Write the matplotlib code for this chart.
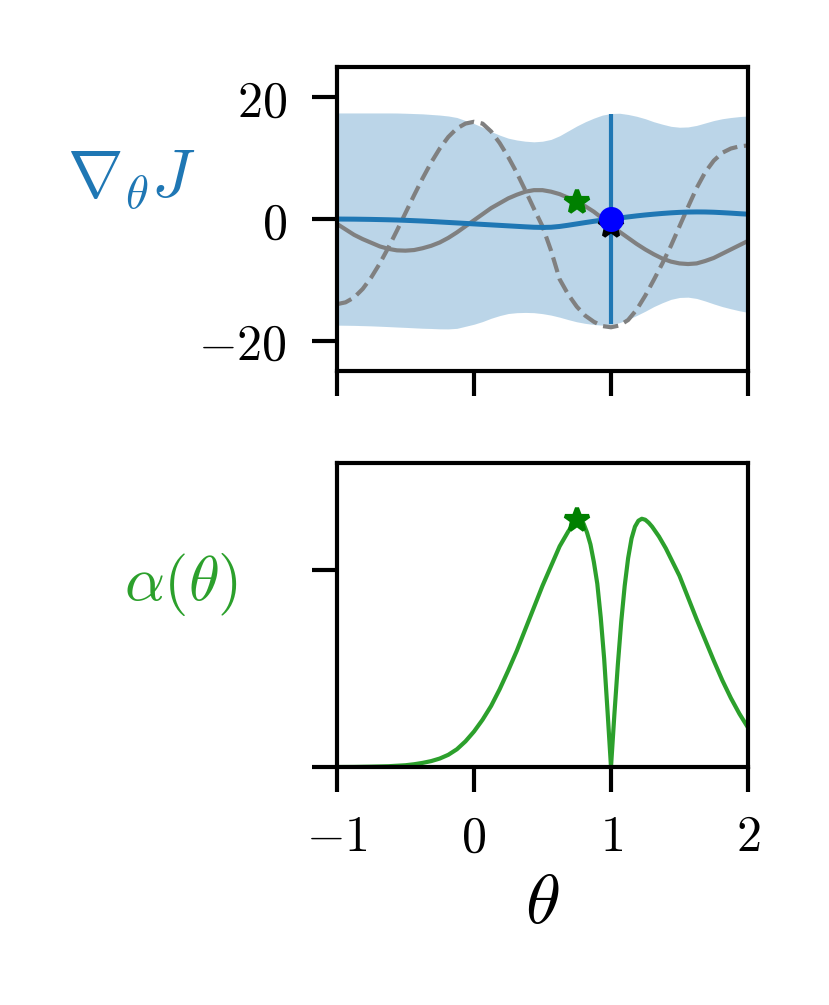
import numpy as np
import matplotlib
matplotlib.use('Agg')
import matplotlib.pyplot as plt

plt.rcParams['mathtext.fontset'] = 'cm'
plt.rcParams['font.family'] = 'serif'

# top panel: gradient GP (step 0.0625)
theta = [-1.0, -0.9375, -0.875, -0.8125, -0.75, -0.6875, -0.625, -0.5625,
         -0.5, -0.4375, -0.375, -0.3125, -0.25, -0.1875, -0.125, -0.0625,
         0.0, 0.0625, 0.125, 0.1875, 0.25, 0.3125, 0.375, 0.4375,
         0.5, 0.5625, 0.625, 0.6875, 0.75, 0.8125, 0.875, 0.9375,
         1.0, 1.0625, 1.125, 1.1875, 1.25, 1.3125, 1.375, 1.4375,
         1.5, 1.5625, 1.625, 1.6875, 1.75, 1.8125, 1.875, 1.9375, 2.0]
grad_mean = [0.0, -0.01, -0.02, -0.04, -0.06, -0.09, -0.12, -0.16,
             -0.21, -0.27, -0.33, -0.4, -0.48, -0.56, -0.64, -0.72,
             -0.8, -0.88, -0.96, -1.04, -1.12, -1.2, -1.28, -1.35,
             -1.38, -1.35, -1.22, -1.02, -0.8, -0.58, -0.37, -0.18,
             0.0, 0.18, 0.35, 0.52, 0.67, 0.8, 0.92, 1.02,
             1.1, 1.15, 1.17, 1.16, 1.12, 1.05, 0.97, 0.88, 0.8]
grad_std = [17.45, 17.46, 17.47, 17.49, 17.51, 17.54, 17.57, 17.6,
            17.61, 17.62, 17.63, 17.6, 17.58, 17.51, 17.34, 16.92,
            16.5, 15.98, 15.36, 14.84, 14.42, 14.2, 14.08, 14.05,
            14.18, 14.45, 14.92, 15.52, 16.1, 16.58, 16.97, 17.28,
            17.35, 17.22, 16.85, 16.38, 15.83, 15.2, 14.68, 14.23,
            14.0, 14.0, 14.23, 14.64, 15.08, 15.45, 15.73, 15.97, 16.15]
true_J = [-0.8, -1.7, -2.6, -3.3, -3.9, -4.5, -4.9, -5.15,
          -5.2, -5.1, -4.8, -4.4, -3.85, -3.1, -2.2, -1.2,
          -0.2, 0.8, 1.8, 2.6, 3.4, 4.0, 4.5, 4.75,
          4.75, 4.5, 4.1, 3.5, 2.9, 2.1, 1.2, 0.1,
          -1.0, -2.1, -3.1, -4.1, -5.0, -5.8, -6.5, -7.0,
          -7.3, -7.4, -7.3, -6.9, -6.4, -5.7, -5.0, -4.3, -3.6]
true_grad = [-14.0, -13.7, -12.9, -11.5, -9.6, -7.3, -4.7, -1.9,
             1.0, 3.9, 6.7, 9.3, 11.6, 13.5, 14.9, 15.7,
             16.0, 15.7, 14.4, 12.5, 10.2, 7.6, 4.7, 1.7,
             -1.2, -5.2, -9.9, -12.4, -14.4, -15.9, -16.9, -17.6,
             -17.8, -17.5, -16.6, -14.9, -12.6, -10.0, -7.3, -4.4,
             -1.2, 2.0, 5.1, 7.7, 9.6, 10.9, 11.6, 11.95, 12.1]

obs_theta = 1.0
obs_grad = 0.0
obs_err = 17.2
obs_true = -1.2
best_theta = 0.75
best_grad = 2.8

# bottom panel: acquisition function
theta_a = [-1.0, -0.875, -0.75, -0.625, -0.5, -0.4375, -0.375, -0.3125,
           -0.25, -0.1875, -0.125, -0.0625, 0.0, 0.0625, 0.125, 0.1875,
           0.25, 0.3125, 0.375, 0.4375, 0.5, 0.5625, 0.625, 0.6875,
           0.725, 0.75, 0.775, 0.8, 0.825, 0.85, 0.875, 0.9,
           0.925, 0.95, 0.975, 1.0, 1.025, 1.05, 1.075, 1.1,
           1.125, 1.15, 1.175, 1.2, 1.225, 1.25, 1.275, 1.3,
           1.35, 1.4, 1.45, 1.5, 1.5625, 1.625, 1.6875, 1.75,
           1.8125, 1.875, 1.9375, 2.0]
alpha = [0.0, 0.0005, 0.002, 0.004, 0.009, 0.014, 0.021, 0.03,
         0.043, 0.062, 0.09, 0.13, 0.18, 0.24, 0.31, 0.395,
         0.49, 0.59, 0.70, 0.81, 0.92, 1.02, 1.12, 1.195,
         1.235, 1.255, 1.255, 1.235, 1.19, 1.13, 1.04, 0.93,
         0.76, 0.55, 0.28, 0.0, 0.27, 0.52, 0.74, 0.92,
         1.06, 1.16, 1.22, 1.25, 1.26, 1.255, 1.24, 1.22,
         1.17, 1.11, 1.04, 0.97, 0.86, 0.75, 0.645, 0.54,
         0.44, 0.35, 0.27, 0.2]
best_alpha = 1.255

xticks = [-1, 0, 1, 2]
xtick_labels = ['$-1$', '$0$', '$1$', '$2$']
yticks_top = [-20, 0, 20]
ytick_labels_top = ['$-20$', '$0$', '$20$']

fig = plt.figure(figsize=(829 / 300, 1005 / 300), dpi=300)
ax1 = fig.add_axes([0.4065, 0.6308, 0.4958, 0.3025])
ax2 = fig.add_axes([0.4065, 0.2368, 0.4958, 0.3025])

mean = np.array(grad_mean)
std = np.array(grad_std)
ax1.fill_between(theta, mean - std, mean + std, color='tab:blue', alpha=0.3, lw=0)
ax1.plot(theta, true_J, color='gray', lw=1)
ax1.plot(theta, true_grad, color='gray', lw=1, ls='--')
ax1.plot(theta, grad_mean, color='tab:blue', lw=1.2)
ax1.errorbar([obs_theta], [obs_grad], yerr=[obs_err], color='tab:blue', lw=1, fmt='none')
ax1.plot([obs_theta], [obs_true], marker='*', color='black', ms=6, ls='none')
ax1.plot([obs_theta], [obs_grad], marker='o', color='blue', ms=5, ls='none')
ax1.plot([best_theta], [best_grad], marker='*', color='green', ms=6, ls='none')

ax1.set_xlim(-1, 2)
ax1.set_ylim(-25, 25)
ax1.set_xticks(xticks)
ax1.set_xticklabels([])
ax1.set_yticks(yticks_top)
ax1.set_yticklabels(ytick_labels_top)
ax1.set_ylabel(r'$\nabla_\theta J$', color='tab:blue', fontsize=16, rotation=0,
               ha='center', va='center')
ax1.yaxis.set_label_coords(-0.50, 0.63)

ax2.plot(theta_a, alpha, color='tab:green', lw=1)
ax2.plot([best_theta], [best_alpha], marker='*', color='green', ms=6, ls='none')
ax2.set_xlim(-1, 2)
ax2.set_ylim(0, 1.543)
ax2.set_xticks(xticks)
ax2.set_xticklabels(xtick_labels)
ax2.set_yticks([0, 1])
ax2.set_yticklabels([])
ax2.set_xlabel(r'$\theta$', fontsize=17, labelpad=1.5)
ax2.set_ylabel(r'$\alpha(\theta)$', color='tab:green', fontsize=15, rotation=0,
               ha='center', va='center')
ax2.yaxis.set_label_coords(-0.38, 0.60)

for ax in (ax1, ax2):
    for s in ax.spines.values():
        s.set_linewidth(1.0)
    ax.tick_params(length=6, width=1.0, labelsize=12, pad=5)
ax1.tick_params(axis='y', pad=6)

fig.savefig('out.png', dpi=300)
